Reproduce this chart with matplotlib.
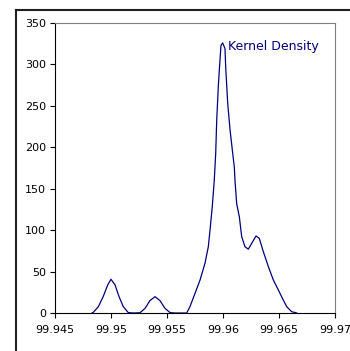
import matplotlib.pyplot as plt
from matplotlib.lines import Line2D

# kernel density curve
x = [99.9483, 99.94842, 99.94887, 99.94931, 99.94971, 99.9500, 99.95036, 99.95071,
     99.95110, 99.95154, 99.95196, 99.95259, 99.95304, 99.95348, 99.95393, 99.95437,
     99.95482, 99.95527, 99.95571, 99.95676, 99.95705, 99.9575, 99.95795, 99.95839,
     99.95869, 99.95884, 99.95904, 99.95922, 99.95935, 99.95944, 99.95958, 99.95967,
     99.95982, 99.95997, 99.96018, 99.96024, 99.96042, 99.96063, 99.96083, 99.96101,
     99.96107, 99.96122, 99.96146, 99.96167, 99.96196, 99.96226, 99.96256, 99.96295,
     99.96324, 99.96360, 99.96405, 99.96449, 99.96494, 99.96538, 99.96569, 99.96613,
     99.96658]
density = [0, 0.8, 7.6, 20, 34, 40.7, 34, 20,
           7.6, 0.5, 0, 0.3, 5.6, 15, 19.7, 15,
           5.6, 0.5, 0, 0, 7.6, 23.7, 39.8, 60,
           80, 100, 128, 160, 193, 233, 273, 293,
           323, 326, 319, 297, 253, 221, 197, 176,
           160, 132, 116, 92, 80, 77, 84, 93,
           90, 74, 56, 40, 27.8, 15.7, 7.6, 1.6,
           0]

xticks = [99.945, 99.95, 99.955, 99.96, 99.965, 99.97]
xticklabels = ["99.945", "99.95", "99.955", "99.96", "99.965", "99.97"]
yticks = [0, 50, 100, 150, 200, 250, 300, 350]

plt.rcParams['font.family'] = ['DejaVu Sans']

fig = plt.figure(figsize=(3.5, 3.51), dpi=100)
ax = fig.add_axes([55 / 350, 1 - 313 / 351, 280 / 350, 290 / 351])

ax.plot(x, density, color='#000080', lw=0.9)
peak = density.index(max(density))
ax.annotate("Kernel Density", (x[peak], density[peak]), xytext=(3.6, -2.5),
            textcoords='offset points', color='#000080', fontsize=9,
            ha='left', va='center')

ax.set_xlim(99.945, 99.97)
ax.set_ylim(0, 350)
ax.set_xticks(xticks)
ax.set_xticklabels(xticklabels)
ax.set_yticks(yticks)
ax.tick_params(direction='out', length=3.6, width=0.8, labelsize=8, color='black')
ax.tick_params(axis='x', pad=5)
ax.tick_params(axis='y', pad=3)

for s in ['top', 'right']:
    ax.spines[s].set_color('#808080')
    ax.spines[s].set_linewidth(0.8)
for s in ['left', 'bottom']:
    ax.spines[s].set_color('black')
    ax.spines[s].set_linewidth(0.8)

# outer chart border (only left and top visible in the crop)
fig.add_artist(Line2D([16 / 350, 16 / 350], [0, 1 - 10 / 351], transform=fig.transFigure,
                      color='#202020', lw=1.5))
fig.add_artist(Line2D([16 / 350, 1], [1 - 10 / 351, 1 - 10 / 351], transform=fig.transFigure,
                      color='#202020', lw=1.5))

fig.savefig('out.png', dpi=100)
